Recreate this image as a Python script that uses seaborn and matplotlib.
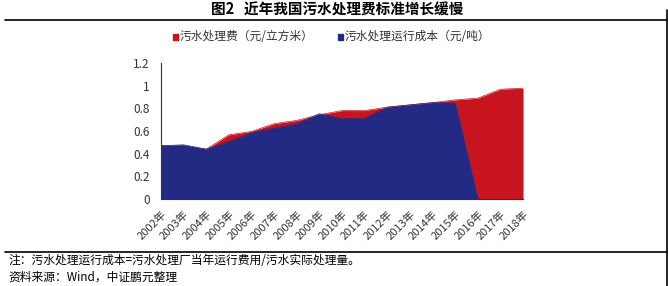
import numpy as np
import pandas as pd
import matplotlib
matplotlib.use("Agg")
import matplotlib.pyplot as plt
import seaborn as sns
from matplotlib.patches import Rectangle
from matplotlib.lines import Line2D

years = ["2002年", "2003年", "2004年", "2005年", "2006年", "2007年", "2008年", "2009年",
         "2010年", "2011年", "2012年", "2013年", "2014年", "2015年", "2016年", "2017年", "2018年"]
fee = [0.47, 0.47, 0.44, 0.566, 0.596, 0.664, 0.693, 0.743, 0.78, 0.78, 0.81, 0.83, 0.85, 0.874, 0.889, 0.968, 0.977]
cost = [0.47, 0.478, 0.44, 0.507, 0.587, 0.625, 0.664, 0.752, 0.708, 0.714, 0.81, 0.83, 0.85, 0.845, 0.0, np.nan, np.nan]
yticks = [0, 0.2, 0.4, 0.6, 0.8, 1.0, 1.2]
ytick_labels = ["0", "0.2", "0.4", "0.6", "0.8", "1", "1.2"]
fee_label = "污水处理费（元/立方米）"
cost_label = "污水处理运行成本（元/吨）"
title = "图2   近年我国污水处理费标准增长缓慢"
note1 = "注：污水处理运行成本=污水处理厂当年运行费用/污水实际处理量。"
note2 = "资料来源：Wind，中证鹏元整理"

sns.set_theme(style="white")
plt.rcParams['font.family'] = ['Noto Sans CJK SC', 'DejaVu Sans']

RED = "#C8141E"
BLUE = "#232A84"

df = pd.DataFrame({"year": years, "x": np.arange(len(years)), "fee": fee, "cost": cost})

fig = plt.figure(figsize=(6.68, 2.86), dpi=100)
ax = fig.add_axes([0.241, 0.304, 0.542, 0.476])

ax.fill_between(df["x"], 0, df["fee"], color=RED, linewidth=0, zorder=2)
m = df["cost"].notna()
ax.fill_between(df["x"][m], 0, df["cost"][m], color=BLUE, linewidth=0, zorder=3)
sns.lineplot(data=df, x="x", y="fee", ax=ax, color=RED, linewidth=0.5, zorder=2)
sns.lineplot(data=df[m], x="x", y="cost", ax=ax, color=BLUE, linewidth=0.5, zorder=3)

ax.set_xlim(0, len(years) - 1)
ax.set_ylim(0, 1.2)
ax.set_xticks(df["x"])
ax.set_xticklabels(years, rotation=45, ha="right", rotation_mode="anchor", fontsize=8, color="#333333")
ax.set_yticks(yticks)
ax.set_yticklabels(ytick_labels, fontsize=8.5, color="#333333")
ax.set_xlabel("")
ax.set_ylabel("")
sns.despine(ax=ax)
for s in ["left", "bottom"]:
    ax.spines[s].set_color("#333333")
    ax.spines[s].set_linewidth(0.8)
ax.tick_params(axis="both", direction="out", length=3, width=0.6, color="#555555", pad=4)
ax.tick_params(axis="y", pad=5)

# Title and frame lines
fig.text(0.505, 1 - 10 / 286, title, ha="center", va="center", fontsize=10.5, fontweight="bold", color="black")
fig.add_artist(Line2D([5 / 668, 1], [1 - 19.5 / 286] * 2, color="black", linewidth=1.2))
fig.add_artist(Line2D([5 / 668, 1], [1 - 251.5 / 286] * 2, color="black", linewidth=1.2))
fig.add_artist(Line2D([666.5 / 668] * 2, [0, 1 - 10 / 286], color="black", linewidth=1.2))

# Legend
ly = 1 - 37 / 286
sq = 5 / 668
fig.add_artist(Rectangle((173 / 668, ly - 2.5 / 286), sq, 5 / 286, color=RED, transform=fig.transFigure))
fig.text(180 / 668, ly, fee_label, ha="left", va="center", fontsize=8.5, color="#333333")
fig.add_artist(Rectangle((338 / 668, ly - 2.5 / 286), sq, 5 / 286, color=BLUE, transform=fig.transFigure))
fig.text(345 / 668, ly, cost_label, ha="left", va="center", fontsize=8.5, color="#333333")

# Notes
fig.text(8 / 668, 1 - 261 / 286, note1, ha="left", va="center", fontsize=8.5, color="black")
fig.text(8 / 668, 1 - 277 / 286, note2, ha="left", va="center", fontsize=8.5, color="black")

fig.savefig("out.png", dpi=100, facecolor="white")
